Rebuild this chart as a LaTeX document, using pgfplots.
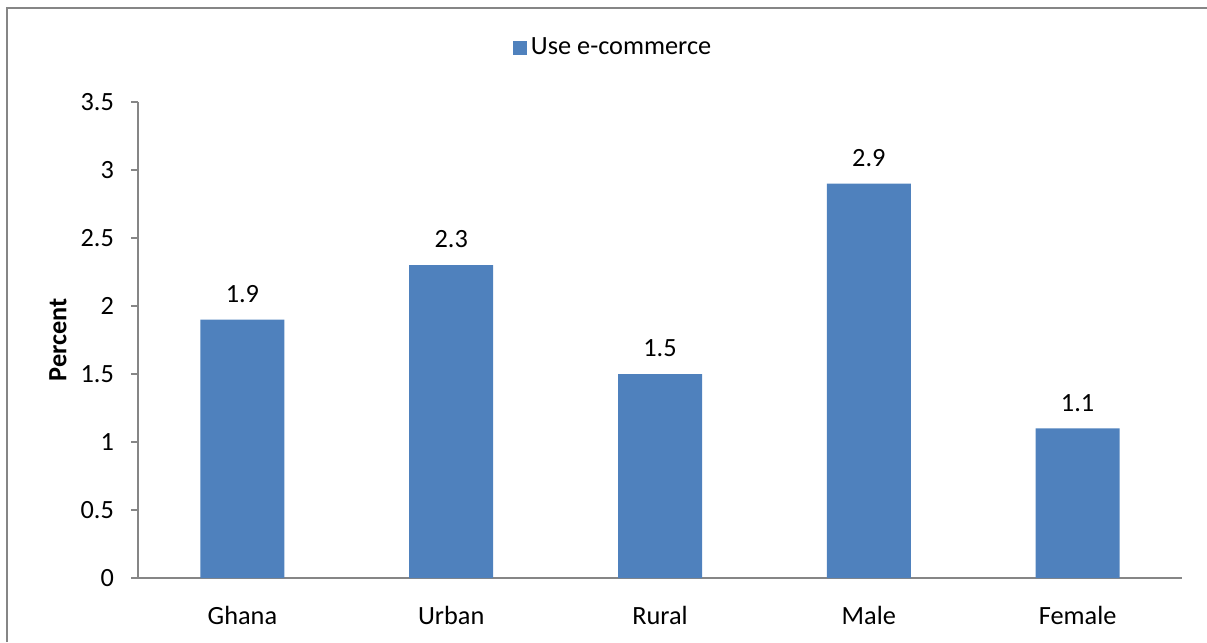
\documentclass[border=0pt]{standalone}
\usepackage{pgfplots}
\pgfplotsset{compat=1.18}
\usepackage{fontspec}
\setmainfont{Carlito}
\definecolor{barblue}{HTML}{4F81BD}
\definecolor{axgray}{HTML}{868686}
\newcommand{\chartfont}{\fontsize{13.2}{15}\selectfont}
\begin{document}
\chartfont
\begin{tikzpicture}[x=1bp,y=1bp]
\path[use as bounding box] (0,0) rectangle (603.5,321);
% outer chart frame (only top and left edges visible)
\draw[axgray, line width=1bp] (3.5,0) -- (3.5,317) -- (603.5,317);
\begin{axis}[
	at={(69bp,32bp)}, anchor=south west,
	scale only axis, width=522bp, height=238bp,
	xmin=-0.5, xmax=4.5, ymin=0, ymax=3.5,
	ybar, bar width=42bp,
	axis lines*=left,
	axis line style={axgray, line width=0.8bp},
	xtick={0,1,2,3,4},
	xticklabels={Ghana,Urban,Rural,Male,Female},
	x tick style={draw=none},
	ytick={0,0.5,...,3.5},
	y tick style={axgray, line width=0.8bp},
	tick align=outside, major tick length=3.5bp,
	/pgf/number format/assume math mode=true,
	tick label style={font=\chartfont},
	xticklabel style={yshift=-6bp},
	yticklabel style={xshift=-4bp},
	ylabel={\textbf{Percent}},
	ylabel style={at={(axis description cs:-0.0766,0.5)}, anchor=center, font=\chartfont},
	nodes near coords,
	every node near coord/.append style={font=\chartfont, yshift=4bp, /pgf/number format/assume math mode=true},
	legend style={at={(axis description cs:0.456,1.113)}, anchor=center, draw=none, fill=none, font=\chartfont},
	legend image code/.code={\fill[barblue] (-2bp,-3.5bp) rectangle (5bp,3.5bp);},
]
	% share of people using e-commerce
	\addplot[fill=barblue, draw=none] coordinates {
		(0,1.9)
		(1,2.3)
		(2,1.5)
		(3,2.9)
		(4,1.1)};
	\addlegendentry{Use e-commerce}
\end{axis}
\end{tikzpicture}
\end{document}
